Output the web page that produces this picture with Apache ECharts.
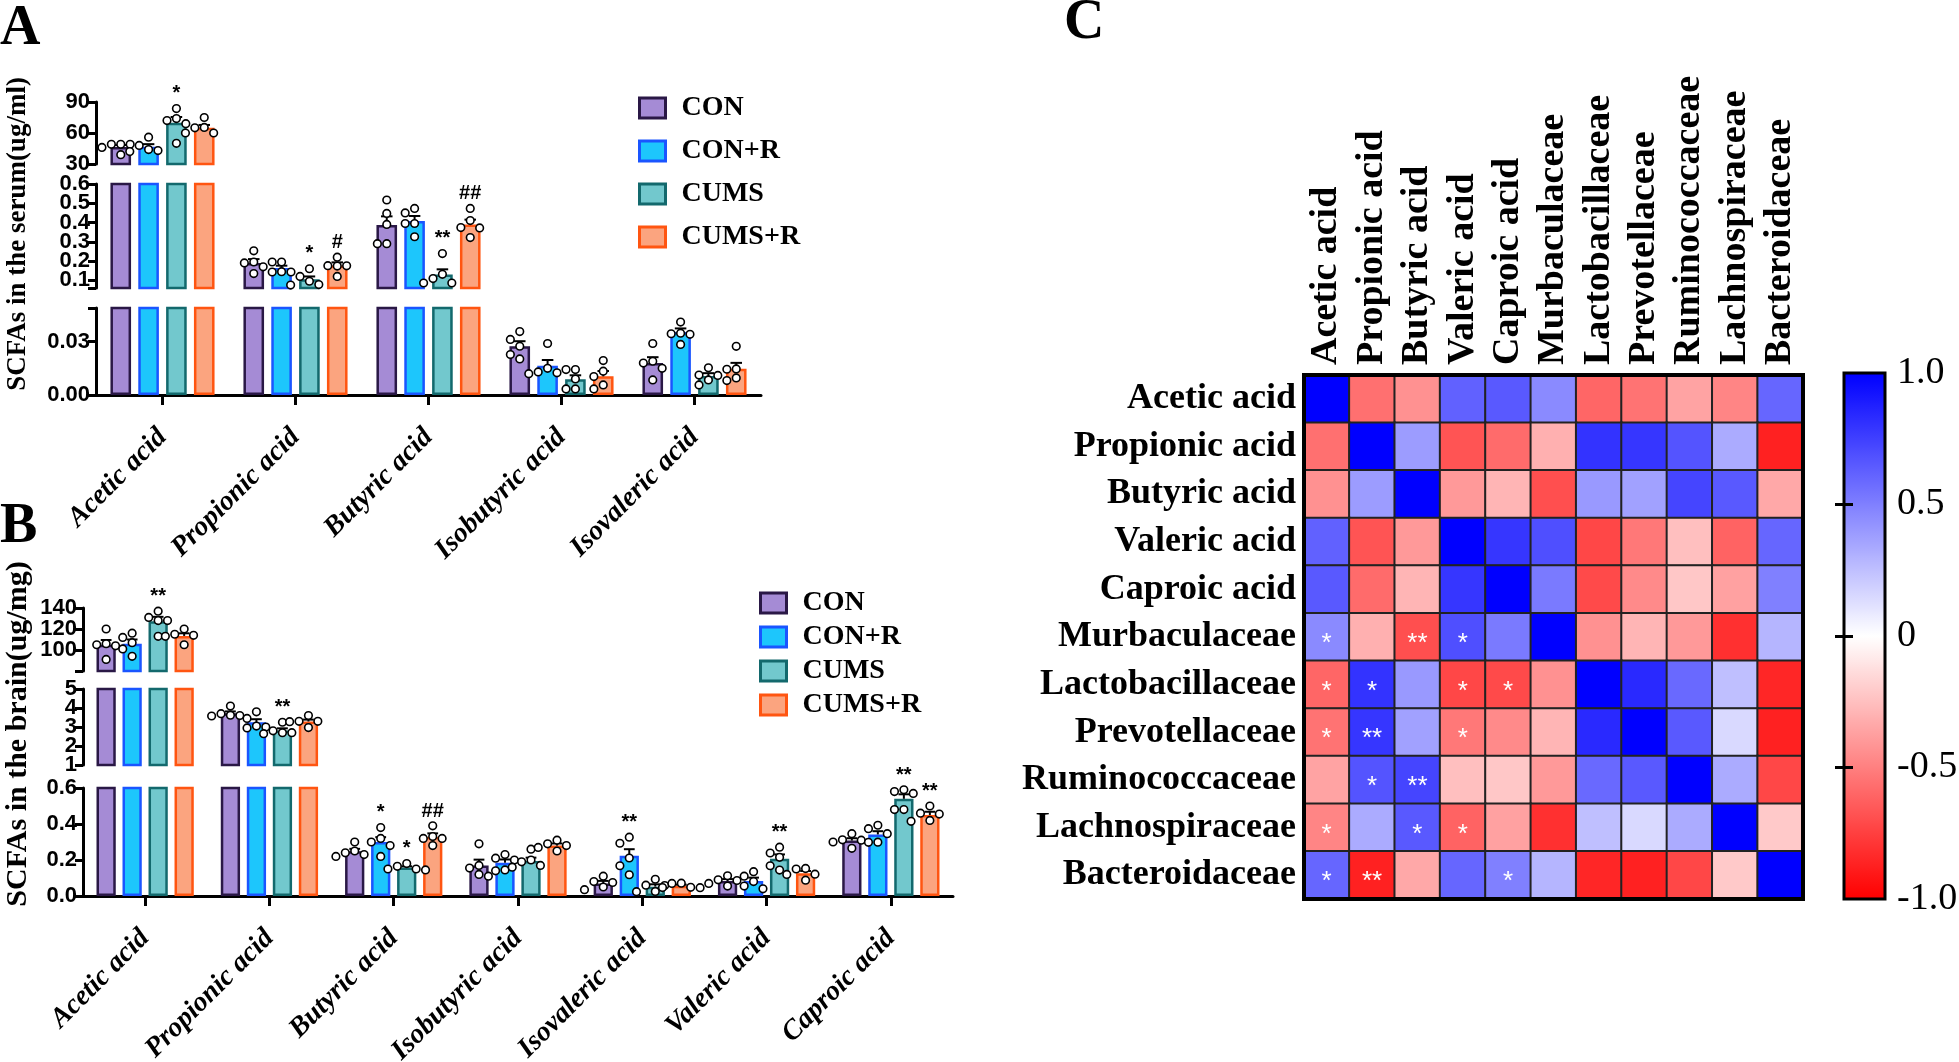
<!DOCTYPE html>
<html><head><meta charset="utf-8">
<script src="https://cdn.jsdelivr.net/npm/echarts@6/dist/echarts.min.js"></script>
<style>html,body{margin:0;padding:0;background:#fff}#c{width:1959px;height:1062px}</style>
</head><body><div id="c"></div>
<script>
// ================= DATA =================
const groups = ['CON', 'CON+R', 'CUMS', 'CUMS+R'];

// ---- Panel A: serum ----
const catsA = ['Acetic acid', 'Propionic acid', 'Butyric acid', 'Isobutyric acid', 'Isovaleric acid'];
const A_CON_mean  = [46.4, 0.19, 0.387, 0.0275, 0.018];
const A_CON_sem   = [2.0, 0.02, 0.045, 0.0028, 0.0033];
const A_CON_pts   = [[49, 49, 49, 46, 39], [0.253, 0.195, 0.19, 0.17, 0.135], [0.517, 0.447, 0.39, 0.29, 0.29], [0.0357, 0.0313, 0.0275, 0.0228, 0.0203], [0.029, 0.019, 0.018, 0.015, 0.0085]];
const A_CON_sig   = ['', '', '', '', ''];
const A_CONR_mean = [46.6, 0.164, 0.408, 0.0165, 0.0355];
const A_CONR_sem  = [2.6, 0.012, 0.026, 0.0032, 0.002];
const A_CONR_pts  = [[56, 48, 43, 42, 44], [0.195, 0.195, 0.143, 0.143, 0.145], [0.473, 0.45, 0.395, 0.395, 0.326], [0.029, 0.015, 0.0125, 0.012, 0.013], [0.0411, 0.0345, 0.0348, 0.0342, 0.0285]];
const A_CONR_sig  = ['', '', '', '', ''];
const A_CUMS_mean = [70, 0.105, 0.13, 0.0089, 0.0107];
const A_CUMS_sem  = [5.5, 0.015, 0.027, 0.0022, 0.0016];
const A_CUMS_pts  = [[83.6, 74, 72, 69, 50], [0.16, 0.12, 0.095, 0.078, 0.075], [0.239, 0.131, 0.109, 0.086, 0.086], [0.0143, 0.0143, 0.009, 0.0034, 0.0034], [0.0153, 0.011, 0.0112, 0.0085, 0.0057]];
const A_CUMS_sig  = ['*', '*', '**', '', ''];
const A_CUMSR_mean = [65, 0.177, 0.39, 0.0105, 0.0148];
const A_CUMSR_sem  = [2.8, 0.016, 0.025, 0.003, 0.0033];
const A_CUMSR_pts  = [[75, 65.4, 65, 60, 60], [0.22, 0.175, 0.176, 0.174, 0.12], [0.473, 0.41, 0.374, 0.372, 0.322], [0.0194, 0.0134, 0.0104, 0.0034, 0.0057], [0.0274, 0.0147, 0.0145, 0.0081, 0.0096]];
const A_CUMSR_sig  = ['', '#', '##', '', ''];
// axis segments (broken axis) and tick labels
const A_ranges = [[30, 90], [0.06, 0.6], [0, 0.049]];
const A_ticks  = [[30, 60, 90], [0.1, 0.2, 0.3, 0.4, 0.5, 0.6], [0, 0.03]];

// ---- Panel B: brain ----
const catsB = ['Acetic acid', 'Propionic acid', 'Butyric acid', 'Isobutyric acid', 'Isovaleric acid', 'Valeric acid', 'Caproic acid'];
const B_CON_mean  = [105, 3.72, 0.248, 0.169, 0.07, 0.083, 0.308];
const B_CON_sem   = [4.5, 0.1, 0.014, 0.033, 0.014, 0.011, 0.013];
const B_CON_pts   = [[120, 106, 104, 105, 91], [4.1, 3.7, 3.6, 3.62, 3.58], [0.30, 0.25, 0.24, 0.23, 0.22], [0.29, 0.17, 0.155, 0.12, 0.11], [0.11, 0.08, 0.075, 0.05, 0.035], [0.112, 0.09, 0.086, 0.07, 0.055], [0.346, 0.312, 0.31, 0.30, 0.265]];
const B_CON_sig   = ['', '', '', '', '', '', ''];
const B_CONR_mean = [106, 3.25, 0.30, 0.185, 0.223, 0.084, 0.342];
const B_CONR_sem  = [4, 0.16, 0.027, 0.018, 0.037, 0.018, 0.018];
const B_CONR_pts  = [[116, 112, 107, 101, 94], [3.8, 3.45, 3.05, 2.95, 3.0], [0.38, 0.32, 0.30, 0.28, 0.22], [0.23, 0.21, 0.20, 0.145, 0.14], [0.327, 0.293, 0.211, 0.168, 0.118], [0.135, 0.11, 0.08, 0.055, 0.04], [0.393, 0.374, 0.346, 0.299, 0.298]];
const B_CONR_sig  = ['', '', '*', '', '**', '', ''];
const B_CUMS_mean = [127.4, 2.82, 0.158, 0.195, 0.052, 0.207, 0.54];
const B_CUMS_sem  = [4.2, 0.11, 0.007, 0.018, 0.013, 0.024, 0.025];
const B_CUMS_pts  = [[137, 131, 128, 128, 113], [3.25, 2.8, 2.7, 2.7, 2.65], [0.18, 0.165, 0.15, 0.145, 0.15], [0.26, 0.2, 0.19, 0.17, 0.16], [0.093, 0.06, 0.058, 0.024, 0.025], [0.271, 0.239, 0.215, 0.168, 0.144], [0.59, 0.58, 0.57, 0.48, 0.48]];
const B_CUMS_sig  = ['**', '**', '*', '', '', '**', '**'];
const B_CUMSR_mean = [113.4, 3.29, 0.328, 0.28, 0.057, 0.127, 0.45];
const B_CUMSR_sem  = [2.5, 0.1, 0.02, 0.012, 0.006, 0.012, 0.018];
const B_CUMSR_pts  = [[120, 115, 114, 113, 105], [3.6, 3.3, 3.3, 3.28, 2.97], [0.39, 0.33, 0.32, 0.32, 0.28], [0.31, 0.29, 0.28, 0.27, 0.25], [0.071, 0.07, 0.047, 0.048, 0.046], [0.153, 0.15, 0.121, 0.12, 0.088], [0.50, 0.46, 0.455, 0.42, 0.415]];
const B_CUMSR_sig  = ['', '', '##', '', '', '', '**'];
const B_ranges = [[80, 140], [1, 5], [0, 0.6]];
const B_ticks  = [[100, 120, 140], [1, 2, 3, 4, 5], [0, 0.2, 0.4, 0.6]];

// ---- Panel C: correlation heatmap ----
const heatCats = ['Acetic acid', 'Propionic acid', 'Butyric acid', 'Valeric acid', 'Caproic acid', 'Murbaculaceae', 'Lactobacillaceae', 'Prevotellaceae', 'Ruminococcaceae', 'Lachnospiraceae', 'Bacteroidaceae'];
const heatValues = [
  [1, -0.56, -0.43, 0.62, 0.65, 0.46, -0.6, -0.55, -0.36, -0.48, 0.6],
  [-0.56, 1, 0.39, -0.67, -0.58, -0.31, 0.8, 0.79, 0.67, 0.33, -0.87],
  [-0.43, 0.39, 1, -0.4, -0.29, -0.69, 0.4, 0.37, 0.73, 0.65, -0.34],
  [0.62, -0.67, -0.4, 1, 0.79, 0.69, -0.72, -0.53, -0.25, -0.61, 0.6],
  [0.65, -0.58, -0.29, 0.79, 1, 0.52, -0.71, -0.46, -0.22, -0.37, 0.5],
  [0.46, -0.31, -0.69, 0.69, 0.52, 1, -0.43, -0.29, -0.4, -0.81, 0.29],
  [-0.6, 0.8, 0.4, -0.72, -0.71, -0.43, 1, 0.84, 0.59, 0.25, -0.85],
  [-0.55, 0.79, 0.37, -0.53, -0.46, -0.29, 0.84, 1, 0.65, 0.15, -0.87],
  [-0.36, 0.67, 0.73, -0.25, -0.22, -0.4, 0.59, 0.65, 1, 0.33, -0.72],
  [-0.48, 0.33, 0.65, -0.61, -0.37, -0.81, 0.25, 0.15, 0.33, 1, -0.21],
  [0.6, -0.87, -0.34, 0.6, 0.5, 0.29, -0.85, -0.87, -0.72, -0.21, 1]
];
const heatSig = [
  ['', '', '', '', '', '', '', '', '', '', ''],
  ['', '', '', '', '', '', '', '', '', '', ''],
  ['', '', '', '', '', '', '', '', '', '', ''],
  ['', '', '', '', '', '', '', '', '', '', ''],
  ['', '', '', '', '', '', '', '', '', '', ''],
  ['*', '', '**', '*', '', '', '', '', '', '', ''],
  ['*', '*', '', '*', '*', '', '', '', '', '', ''],
  ['*', '**', '', '*', '', '', '', '', '', '', ''],
  ['', '*', '**', '', '', '', '', '', '', '', ''],
  ['*', '', '*', '*', '', '', '', '', '', '', ''],
  ['*', '**', '', '', '*', '', '', '', '', '', '']
];
const colorTicks = [-1, -0.5, 0, 0.5, 1];

// ================= STYLE / LAYOUT =================
const fills   = ['#a58bd5', '#1dc6fc', '#72c8cd', '#fba47f'];
const borders = ['#2a1846', '#1a55ff', '#13696d', '#ff5511'];
const BAR_W = 0.155, BAR_GAP = 0.35;
const SERIF = '"Liberation Serif", "Times New Roman", serif';
const SANS = '"Liberation Sans", Arial, sans-serif';
const NARROW = '"Liberation Sans Narrow", "Arial Narrow", "Liberation Sans", sans-serif';

const panelLayout = [
  { left: 96, width: 665, tops: [102, 184, 308], heights: [62, 104, 87] },
  { left: 83, width: 870, tops: [608, 689, 788], heights: [63, 76, 108] }
];
const HM = { left: 1304, top: 375, width: 499, height: 524 };
const CB = { left: 1844, top: 373, width: 41, height: 526 };

const panels = [
  { cats: catsA, ranges: A_ranges, ticks: A_ticks,
    means: [A_CON_mean, A_CONR_mean, A_CUMS_mean, A_CUMSR_mean],
    sems: [A_CON_sem, A_CONR_sem, A_CUMS_sem, A_CUMSR_sem],
    pts: [A_CON_pts, A_CONR_pts, A_CUMS_pts, A_CUMSR_pts],
    sigs: [A_CON_sig, A_CONR_sig, A_CUMS_sig, A_CUMSR_sig],
    fmt: [v => String(v), v => v.toFixed(1), v => v.toFixed(2)] },
  { cats: catsB, ranges: B_ranges, ticks: B_ticks,
    means: [B_CON_mean, B_CONR_mean, B_CUMS_mean, B_CUMSR_mean],
    sems: [B_CON_sem, B_CONR_sem, B_CUMS_sem, B_CUMSR_sem],
    pts: [B_CON_pts, B_CONR_pts, B_CUMS_pts, B_CUMSR_pts],
    sigs: [B_CON_sig, B_CONR_sig, B_CUMS_sig, B_CUMSR_sig],
    fmt: [v => String(v), v => String(v), v => v.toFixed(1)] }
];

function customRender(gi, lo, hi, sigs) {
  return function (params, api) {
    const ci = api.value(0), mean = api.value(1), sem = api.value(2);
    if (!(mean >= lo && mean <= hi)) return null;
    const band = api.size([1, 0])[0];
    const bw = band * BAR_W, pitch = bw * (1 + BAR_GAP);
    const base = api.coord([ci, mean]);
    const cx = base[0] + (gi - 1.5) * pitch;
    const yM = base[1];
    const yT = api.coord([ci, mean + sem])[1];
    const cap = bw * 0.28;
    const ch = [
      { type: 'line', shape: { x1: cx, y1: yM, x2: cx, y2: yT }, style: { stroke: '#000', lineWidth: 2 } },
      { type: 'line', shape: { x1: cx - cap, y1: yT, x2: cx + cap, y2: yT }, style: { stroke: '#000', lineWidth: 2 } }
    ];
    const r = 3.8, d = 2 * r + 1.8;
    const ys = [];
    for (let k = 3; k < 8; k++) ys.push(api.coord([ci, api.value(k)])[1]);
    const order = ys.map((y, k) => k).sort((a, b) => ys[a] - ys[b]);
    const placed = [];
    let minY = yT;
    order.forEach(k => {
      const y = ys[k];
      const cands = [0, -d, d, -2 * d, 2 * d];
      let ox = 0;
      for (const c of cands) {
        if (placed.every(p => Math.hypot(p[0] - c, p[1] - y) >= d - 0.6)) { ox = c; break; }
      }
      placed.push([ox, y]);
      ch.push({ type: 'circle', shape: { cx: cx + ox, cy: y, r: r }, style: { fill: '#fff', stroke: '#000', lineWidth: 1.6 } });
      minY = Math.min(minY, y - r);
    });
    const s = sigs[params.dataIndex];
    if (s) ch.push({ type: 'text', style: { x: cx, y: minY - 1, text: s, fill: '#000', font: 'bold 20px ' + SANS, textAlign: 'center', textVerticalAlign: 'bottom' } });
    return { type: 'group', children: ch };
  };
}

const grid = [], xAxis = [], yAxis = [], series = [];
const tickLabelStyle = { color: '#000', fontFamily: NARROW, fontWeight: 'bold', fontSize: 22, margin: 6,
  showMinLabel: true, showMaxLabel: true, hideOverlap: false, interval: 0 };

// bar-chart grids: each broken-axis segment is its own grid
panels.forEach((P, pi) => {
  const L = panelLayout[pi];
  for (let s = 0; s < 3; s++) {
    const gIdx = grid.length;
    const [lo, hi] = P.ranges[s];
    const isBottom = s === 2;
    grid.push({ left: L.left, top: L.tops[s], width: L.width, height: L.heights[s], outerBoundsMode: 'none' });
    xAxis.push({
      gridIndex: gIdx, type: 'category', data: P.cats, show: isBottom,
      axisLine: { show: isBottom, lineStyle: { color: '#000', width: 3 } },
      axisTick: { show: isBottom, alignWithLabel: true, length: 10, lineStyle: { color: '#000', width: 3 } },
      axisLabel: { show: isBottom, interval: 0, rotate: 45, margin: 38, color: '#000',
        fontFamily: SERIF, fontWeight: 'bold', fontStyle: 'italic', fontSize: 28 },
      splitLine: { show: false }
    });
    const tickVals = [lo].concat(P.ticks[s], [hi]);
    // labels split over two stacked axes (even / odd) so none are dropped as overlapping
    const evenLabels = P.ticks[s].filter((v, i) => i % 2 === 0);
    const oddLabels = P.ticks[s].filter((v, i) => i % 2 === 1);
    yAxis.push({
      gridIndex: gIdx, type: 'value', min: lo, max: hi,
      axisLine: { show: true, lineStyle: { color: '#000', width: 3 } },
      axisTick: { show: true, length: 8, customValues: tickVals, lineStyle: { color: '#000', width: 3 } },
      axisLabel: Object.assign({ show: true, customValues: evenLabels, formatter: P.fmt[s] }, tickLabelStyle),
      splitLine: { show: false }
    });
    P.means.forEach((m, gi) => {
      series.push({
        type: 'bar', name: groups[gi], xAxisIndex: gIdx, yAxisIndex: gIdx,
        data: m.map(v => (v >= lo ? v : '-')),
        barWidth: (BAR_W * 100) + '%', barGap: (BAR_GAP * 100) + '%',
        itemStyle: { color: fills[gi], borderColor: borders[gi], borderWidth: 2.5 },
        emphasis: { disabled: true }, clip: true, z: 2
      });
      series.push({
        type: 'custom', xAxisIndex: gIdx, yAxisIndex: gIdx, z: 5, clip: false,
        data: m.map((v, ci) => [ci, v, P.sems[gi][ci]].concat(P.pts[gi][ci])),
        encode: { x: 0, y: 1 },
        renderItem: customRender(gi, lo, hi, P.sigs[gi]),
        silent: true
      });
    });
    if (oddLabels.length) {
      const g2 = grid.length;
      grid.push({ left: L.left, top: L.tops[s], width: L.width, height: L.heights[s], outerBoundsMode: 'none' });
      xAxis.push({ gridIndex: g2, type: 'category', data: P.cats, show: false });
      yAxis.push({
        gridIndex: g2, type: 'value', min: lo, max: hi,
        axisLine: { show: false }, axisTick: { show: false }, splitLine: { show: false },
        axisLabel: Object.assign({ show: true, customValues: oddLabels, formatter: P.fmt[s] }, tickLabelStyle)
      });
    }
  }
});

// heatmap grid
const hmIdx = grid.length;
grid.push({ left: HM.left, top: HM.top, width: HM.width, height: HM.height, outerBoundsMode: 'none' });
xAxis.push({ gridIndex: hmIdx, type: 'category', data: heatCats, position: 'top',
  axisLine: { show: false }, axisTick: { show: false }, splitLine: { show: false },
  axisLabel: { interval: 0, rotate: -90, margin: 10, color: '#000', fontFamily: SERIF, fontWeight: 'bold', fontSize: 38 } });
yAxis.push({ gridIndex: hmIdx, type: 'category', data: heatCats, inverse: true,
  axisLine: { show: false }, axisTick: { show: false }, splitLine: { show: false },
  axisLabel: { interval: 0, margin: 8, color: '#000', fontFamily: SERIF, fontWeight: 'bold', fontSize: 36 } });
const heatData = [];
heatValues.forEach((row, yi) => row.forEach((v, xi) => heatData.push([xi, yi, v])));
const heatSeriesIndex = series.length;
series.push({
  type: 'heatmap', xAxisIndex: hmIdx, yAxisIndex: hmIdx, data: heatData,
  itemStyle: { borderColor: '#222', borderWidth: 2 },
  label: { show: true, color: '#fff', fontSize: 26, fontFamily: SANS, offset: [0, 7],
    formatter: p => heatSig[p.data[1]][p.data[0]] },
  emphasis: { disabled: true }
});

// colour bar grid
const cbIdx = grid.length;
grid.push({ left: CB.left, top: CB.top, width: CB.width, height: CB.height, outerBoundsMode: 'none' });
xAxis.push({ gridIndex: cbIdx, type: 'value', min: 0, max: 1, show: false });
yAxis.push({ gridIndex: cbIdx, type: 'value', min: -1, max: 1, position: 'right', z: 10,
  axisLine: { show: false }, splitLine: { show: false },
  axisTick: { show: true, inside: true, length: 9, customValues: [-0.5, 0, 0.5], lineStyle: { color: '#000', width: 3 } },
  axisLabel: { show: true, interval: 0, customValues: colorTicks, margin: 12, color: '#000', fontFamily: SERIF, fontSize: 38,
    showMinLabel: true, showMaxLabel: true,
    formatter: v => (v === 0 ? '0' : v.toFixed(1)) } });
yAxis.push({ gridIndex: cbIdx, type: 'value', min: -1, max: 1, position: 'left', z: 10,
  axisLine: { show: false }, splitLine: { show: false }, axisLabel: { show: false },
  axisTick: { show: true, inside: true, length: 9, customValues: [-0.5, 0, 0.5], lineStyle: { color: '#000', width: 3 } } });

const legendStyle = { color: '#000', fontFamily: SERIF, fontWeight: 'bold', fontSize: 28, padding: [0, 0, 0, 11] };
const legendData = groups.map((g, i) => ({ name: g, icon: 'rect', itemStyle: { color: fills[i], borderColor: borders[i], borderWidth: 3 } }));

const option = {
  animation: false,
  backgroundColor: '#fff',
  grid, xAxis, yAxis, series,
  legend: [
    { data: legendData, orient: 'vertical', left: 638, top: 94, itemWidth: 26, itemHeight: 20, itemGap: 15, padding: 0, textStyle: legendStyle, selectedMode: false },
    { data: legendData, orient: 'vertical', left: 759, top: 589, itemWidth: 26, itemHeight: 20, itemGap: 6, padding: 0, textStyle: legendStyle, selectedMode: false }
  ],
  visualMap: {
    type: 'continuous', min: -1, max: 1, seriesIndex: heatSeriesIndex, orient: 'vertical',
    left: CB.left, top: CB.top, itemWidth: CB.width, itemHeight: CB.height, padding: 0,
    calculable: false, text: ['', ''], showLabel: false, hoverLink: false,
    inRange: { color: ['#ff0000', '#ffffff', '#0000ff'] }
  },
  graphic: [
    { type: 'text', left: 0, top: 2, style: { text: 'A', font: 'bold 56px ' + SERIF, fill: '#000' } },
    { type: 'text', left: 0, top: 500, style: { text: 'B', font: 'bold 56px ' + SERIF, fill: '#000' } },
    { type: 'text', left: 1064, top: -4, style: { text: 'C', font: 'bold 56px ' + SERIF, fill: '#000' } },
    { type: 'text', x: 18, y: 234, rotation: Math.PI / 2,
      style: { text: 'SCFAs in the serum(ug/ml)', font: 'bold 27px ' + SERIF, fill: '#000', textAlign: 'center', textVerticalAlign: 'middle' } },
    { type: 'text', x: 18, y: 734, rotation: Math.PI / 2,
      style: { text: 'SCFAs in the brain(ug/mg)', font: 'bold 30px ' + SERIF, fill: '#000', textAlign: 'center', textVerticalAlign: 'middle' } },
    { type: 'rect', z: 100, shape: { x: HM.left, y: HM.top, width: HM.width, height: HM.height }, style: { fill: 'none', stroke: '#000', lineWidth: 4 } },
    { type: 'rect', z: 100, shape: { x: CB.left, y: CB.top, width: CB.width, height: CB.height }, style: { fill: 'none', stroke: '#000', lineWidth: 3 } }
  ]
};

const chart = echarts.init(document.getElementById('c'), null, { renderer: 'canvas' });
chart.setOption(option);
</script>
</body></html>
